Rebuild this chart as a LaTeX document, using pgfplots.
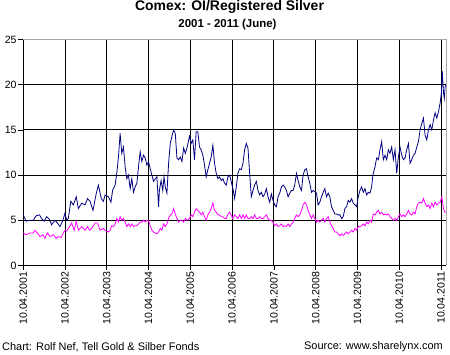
\documentclass[border=0pt]{standalone}
\usepackage{fontspec}
\setmainfont{Liberation Sans}
\usepackage{pgfplots}
\pgfplotsset{compat=1.18}
\definecolor{navyline}{RGB}{0,0,128}
\definecolor{magline}{RGB}{255,0,255}
\begin{document}
\begin{tikzpicture}
\path[use as bounding box] (0,0) rectangle (450bp,355bp);
\begin{axis}[
  at={(23.2bp,89.5bp)}, anchor=south west,
  scale only axis, width=422.8bp, height=226bp,
  xmin=2001.27, xmax=2011.39, ymin=0, ymax=25,
  axis x line*=bottom, axis y line*=left,
  axis line style={black, line width=0.8bp, -},
  xtick={2001.27,2002.27,2003.27,2004.27,2005.27,2006.27,2007.27,2008.27,2009.27,2010.27,2011.27},
  xticklabels={10.04.2001,10.04.2002,10.04.2003,10.04.2004,10.04.2005,10.04.2006,10.04.2007,10.04.2008,10.04.2009,10.04.2010,10.04.2011},
  ytick={0,5,10,15,20,25},
  tick align=outside, major tick length=5bp,
  tick style={black, line width=0.6bp},
  grid=major, major grid style={black, line width=0.8bp},
  x tick label style={rotate=90, anchor=east, font=\fontsize{10.6}{12}\selectfont, inner sep=1bp},
  y tick label style={font=\fontsize{10.6}{12}\selectfont, inner sep=1.5bp},
  /pgf/number format/assume math mode=true,
  clip=false,
]
\addplot[navyline, line width=0.8bp] coordinates {
(2001.27,5.6)(2001.34,4.9)(2001.43,5.0)(2001.51,5.0)(2001.58,5.5)(2001.66,5.6)(2001.71,5.2)(2001.77,4.9)(2001.83,5.4)(2001.90,5.1)(2001.95,4.5)(2002.03,5.0)(2002.09,4.7)(2002.15,4.3)(2002.22,5.0)(2002.27,5.8)(2002.31,5.0)(2002.35,5.2)(2002.41,7.1)(2002.47,6.7)(2002.54,7.6)(2002.59,6.3)(2002.67,6.9)(2002.75,6.7)(2002.81,7.4)(2002.87,7.1)(2002.94,6.1)(2003.02,8.0)(2003.07,8.9)(2003.14,7.4)(2003.19,7.1)
(2003.23,7.8)(2003.31,7.6)(2003.37,7.0)(2003.41,8.3)(2003.47,8.9)(2003.51,10.2)(2003.55,12.0)(2003.59,14.6)(2003.63,12.4)(2003.67,13.1)(2003.71,10.9)(2003.75,9.6)(2003.79,10.0)(2003.83,8.5)(2003.87,9.6)(2003.91,8.1)(2003.95,8.7)(2003.99,9.1)(2004.03,10.9)(2004.07,12.6)(2004.11,11.5)(2004.15,12.2)(2004.19,11.9)(2004.23,11.1)(2004.27,11.5)(2004.31,10.7)(2004.35,10.0)(2004.39,9.3)(2004.43,9.6)(2004.47,9.8)(2004.51,6.5)(2004.53,8.3)(2004.57,9.4)(2004.61,8.3)(2004.64,9.8)(2004.67,8.7)(2004.71,8.0)(2004.75,11.3)(2004.79,13.5)(2004.83,14.3)(2004.87,15.0)(2004.91,14.6)(2004.95,11.9)(2004.99,11.7)(2005.03,12.0)(2005.07,11.5)(2005.11,13.0)(2005.15,12.4)(2005.19,13.0)
(2005.25,14.3)(2005.29,13.5)(2005.33,13.9)(2005.37,11.7)(2005.41,14.8)(2005.45,14.8)(2005.49,13.1)(2005.53,12.8)(2005.57,12.2)(2005.61,11.1)(2005.65,9.8)(2005.69,10.6)(2005.73,11.3)(2005.77,12.0)(2005.81,13.3)(2005.85,11.3)(2005.89,10.2)(2005.93,9.6)(2005.97,9.8)(2006.01,9.4)(2006.05,9.6)(2006.09,9.1)(2006.13,8.9)(2006.17,9.8)(2006.21,10.0)(2006.29,8.5)(2006.33,7.4)(2006.37,8.7)(2006.41,10.2)(2006.45,10.7)(2006.49,10.6)(2006.53,11.3)(2006.57,12.8)(2006.61,13.5)(2006.65,13.0)(2006.69,10.2)(2006.73,7.6)(2006.77,8.3)(2006.81,8.9)(2006.85,9.3)(2006.89,8.3)(2006.93,7.8)(2006.97,8.1)(2007.01,7.6)(2007.05,7.9)(2007.09,8.5)(2007.13,7.6)(2007.17,7.0)(2007.21,7.9)(2007.25,7.2)
(2007.29,6.7)(2007.33,6.5)(2007.37,7.6)(2007.41,8.0)(2007.45,8.7)(2007.49,8.9)(2007.53,8.7)(2007.57,8.3)(2007.61,7.6)(2007.65,8.0)(2007.69,8.3)(2007.73,8.3)(2007.77,8.9)(2007.81,10.2)(2007.85,9.4)(2007.89,8.7)(2007.93,8.3)(2007.97,10.0)(2008.01,10.6)(2008.05,10.7)(2008.09,9.8)(2008.13,9.1)(2008.17,8.1)(2008.21,8.3)(2008.29,8.0)(2008.33,6.7)(2008.37,7.0)(2008.41,7.6)(2008.45,8.1)(2008.49,8.5)(2008.53,7.6)(2008.57,8.0)(2008.61,7.6)(2008.65,6.5)(2008.69,6.1)(2008.73,5.7)(2008.77,5.7)(2008.81,5.6)(2008.85,5.6)(2008.89,5.2)(2008.93,5.4)(2008.97,6.3)(2009.01,6.5)(2009.05,7.2)(2009.09,7.0)(2009.13,7.4)(2009.17,6.9)(2009.21,6.7)(2009.25,6.5)(2009.29,7.6)
(2009.33,8.3)(2009.37,8.7)(2009.41,8.1)(2009.45,8.5)(2009.49,7.8)(2009.53,8.1)(2009.57,8.0)(2009.61,8.7)(2009.64,10.0)(2009.69,10.9)(2009.73,11.9)(2009.77,11.7)(2009.81,12.8)(2009.85,13.7)(2009.89,11.7)(2009.93,12.2)(2009.97,11.7)(2010.01,12.8)(2010.05,12.4)(2010.09,13.1)(2010.13,11.7)(2010.17,12.8)(2010.21,10.2)(2010.25,12.0)(2010.29,13.1)(2010.33,12.2)(2010.37,11.7)(2010.41,11.9)(2010.45,12.8)(2010.49,13.5)(2010.53,11.3)(2010.57,11.7)(2010.61,12.2)(2010.65,12.4)(2010.69,13.1)(2010.73,13.7)(2010.77,15.0)(2010.81,15.7)(2010.85,16.3)(2010.89,14.4)(2010.93,13.9)(2010.97,15.0)(2011.01,15.6)(2011.05,15.0)(2011.09,16.1)(2011.13,16.9)(2011.17,16.3)(2011.21,17.0)(2011.25,18.0)(2011.28,19.1)(2011.30,21.5)(2011.33,19.1)(2011.35,18.5)(2011.37,19.8)(2011.39,20.0)
};
\addplot[magline, line width=0.8bp] coordinates {
(2001.27,3.6)(2001.34,3.4)(2001.43,3.6)(2001.51,3.6)(2001.55,3.9)(2001.61,3.6)(2001.67,3.2)(2001.74,3.4)(2001.79,3.0)(2001.85,3.6)(2001.91,3.2)(2001.99,3.4)(2002.06,3.0)(2002.11,3.2)(2002.18,3.1)(2002.23,3.6)(2002.27,3.9)(2002.31,3.8)(2002.38,4.3)(2002.43,4.7)(2002.49,3.9)(2002.54,4.9)(2002.59,3.9)(2002.67,4.3)(2002.75,3.9)(2002.81,4.3)(2002.86,3.9)(2002.91,4.1)(2002.99,4.7)(2003.05,4.7)(2003.11,3.9)(2003.19,4.1)
(2003.23,3.9)(2003.31,3.7)(2003.35,3.9)(2003.39,4.4)(2003.43,4.3)(2003.47,4.6)(2003.51,5.2)(2003.55,4.8)(2003.59,5.4)(2003.63,5.0)(2003.67,5.2)(2003.71,4.8)(2003.75,4.3)(2003.79,4.6)(2003.83,4.3)(2003.87,4.6)(2003.91,4.3)(2003.95,4.4)(2003.99,4.4)(2004.03,4.6)(2004.07,4.8)(2004.11,4.8)(2004.15,5.0)(2004.19,4.8)(2004.23,5.0)(2004.27,5.0)(2004.31,4.4)(2004.35,3.9)(2004.39,3.7)(2004.43,3.6)(2004.47,3.5)(2004.51,3.7)(2004.55,4.1)(2004.59,3.9)(2004.63,4.6)(2004.67,4.3)(2004.71,4.6)(2004.75,5.2)(2004.79,5.6)(2004.83,5.7)(2004.87,6.3)(2004.91,5.7)(2004.95,5.2)(2004.99,4.8)(2005.03,5.0)(2005.07,5.0)(2005.11,4.8)(2005.15,5.2)(2005.19,5.0)
(2005.25,5.2)(2005.29,5.6)(2005.33,5.4)(2005.37,5.9)(2005.41,6.3)(2005.45,6.1)(2005.49,5.9)(2005.53,5.6)(2005.57,5.9)(2005.61,5.4)(2005.65,5.0)(2005.69,5.6)(2005.73,5.9)(2005.77,6.3)(2005.81,6.9)(2005.85,6.1)(2005.89,5.9)(2005.93,5.6)(2005.97,5.6)(2006.01,5.4)(2006.05,5.4)(2006.09,5.2)(2006.13,5.2)(2006.17,5.7)(2006.21,5.9)(2006.29,5.2)(2006.33,5.6)(2006.37,5.4)(2006.41,5.2)(2006.45,5.6)(2006.49,5.2)(2006.53,5.6)(2006.57,5.2)(2006.61,5.6)(2006.65,5.2)(2006.69,5.2)(2006.73,5.4)(2006.77,5.2)(2006.81,5.6)(2006.85,5.2)(2006.89,5.2)(2006.93,5.4)(2006.97,5.2)(2007.01,5.2)(2007.05,5.4)(2007.09,5.6)(2007.13,5.2)(2007.17,5.0)(2007.21,5.0)(2007.25,4.8)
(2007.29,4.4)(2007.33,4.6)(2007.37,4.3)(2007.41,4.4)(2007.45,4.6)(2007.49,4.3)(2007.53,4.4)(2007.57,4.3)(2007.61,4.6)(2007.65,4.3)(2007.69,4.6)(2007.73,4.8)(2007.77,5.2)(2007.81,5.6)(2007.85,5.4)(2007.89,5.6)(2007.93,6.1)(2007.97,6.7)(2008.01,7.0)(2008.05,6.7)(2008.09,6.1)(2008.13,5.6)(2008.17,5.2)(2008.21,5.6)(2008.29,4.8)(2008.33,5.0)(2008.37,4.8)(2008.41,5.0)(2008.45,5.2)(2008.49,4.8)(2008.53,5.2)(2008.57,5.4)(2008.61,4.8)(2008.65,4.4)(2008.69,4.1)(2008.73,3.7)(2008.77,3.7)(2008.81,3.5)(2008.85,3.3)(2008.89,3.5)(2008.93,3.3)(2008.97,3.5)(2009.01,3.7)(2009.05,3.5)(2009.09,3.7)(2009.13,3.9)(2009.17,3.7)(2009.21,4.1)(2009.25,3.9)(2009.29,4.3)
(2009.33,4.3)(2009.37,4.4)(2009.41,4.6)(2009.45,4.4)(2009.49,4.8)(2009.53,4.6)(2009.57,5.0)(2009.61,4.8)(2009.65,5.7)(2009.69,5.6)(2009.73,5.9)(2009.77,6.1)(2009.81,5.7)(2009.85,5.9)(2009.89,5.6)(2009.93,5.7)(2009.97,5.6)(2010.01,5.7)(2010.05,5.4)(2010.09,5.2)(2010.13,5.0)(2010.17,5.2)(2010.21,5.0)(2010.25,5.4)(2010.29,5.7)(2010.33,5.4)(2010.37,5.6)(2010.41,5.4)(2010.45,5.7)(2010.49,6.1)(2010.53,5.7)(2010.57,5.6)(2010.61,5.9)(2010.65,5.7)(2010.69,6.5)(2010.73,6.9)(2010.77,7.0)(2010.81,6.9)(2010.85,7.4)(2010.89,6.9)(2010.93,6.5)(2010.97,6.7)(2011.01,6.3)(2011.05,6.9)(2011.09,6.5)(2011.13,7.0)(2011.17,6.7)(2011.21,6.9)(2011.25,7.0)(2011.29,7.6)(2011.33,6.3)(2011.36,5.9)(2011.39,5.9)
};
\draw[gray!70, line width=0.8bp] (rel axis cs:0,1) -- (rel axis cs:1,1) -- (rel axis cs:1,0);
\end{axis}
\node[font=\bfseries\fontsize{14}{16}\selectfont] at (229.5bp,348bp) {Comex: OI/Registered Silver};
\node[font=\bfseries\fontsize{11.5}{13}\selectfont] at (227.5bp,330bp) {2001 - 2011 (June)};
\node[anchor=west, inner sep=0pt, font=\fontsize{11}{13}\selectfont] at (2bp,8bp) {Chart: Rolf Nef, Tell Gold \& Silber Fonds};
\node[anchor=east, inner sep=0pt, font=\fontsize{11}{13}\selectfont] at (443bp,8bp) {Source: www.sharelynx.com};
\end{tikzpicture}
\end{document}
